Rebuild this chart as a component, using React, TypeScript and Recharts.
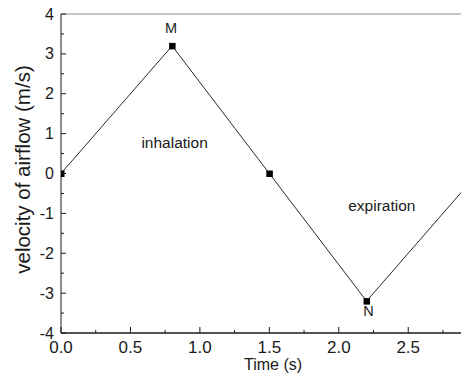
import React from 'react';
import {
  LineChart,
  Line,
  XAxis,
  YAxis,
  ReferenceLine,
  ReferenceDot,
  LabelList,
} from 'recharts';

// ---- data ----
const times = [0, 0.8, 1.5, 2.2, 3.0];
const velocities = [0, 3.2, 0, -3.2, 0];
const pointLabels = ['', 'M', '', 'N', ''];

const xTicks = [0, 0.25, 0.5, 0.75, 1.0, 1.25, 1.5, 1.75, 2.0, 2.25, 2.5, 2.75];
const yTicks = [-4, -3.5, -3, -2.5, -2, -1.5, -1, -0.5, 0, 0.5, 1, 1.5, 2, 2.5, 3, 3.5, 4];

const annotations = [
  { x: 0.818, y: 0.64, text: 'inhalation' },
  { x: 2.31, y: -0.94, text: 'expiration' },
];

const xLabel = 'Time (s)';
const yLabel = 'velocity of airflow (m/s)';

const data = times.map((t, i) => ({ t, v: velocities[i], label: pointLabels[i] }));

const FONT = '"Liberation Sans", Arial, Helvetica, sans-serif';
const INK = '#1a1a1a';

const YTick = (props: any) => {
  const { x, y, payload } = props;
  const v = payload.value as number;
  const major = Number.isInteger(v);
  return (
    <g>
      <line x1={x} x2={x + (major ? 5 : 3)} y1={y} y2={y} stroke={INK} strokeWidth={1} />
      {major && (
        <text
          x={x - 7}
          y={y}
          textAnchor="end"
          dominantBaseline="central"
          fontSize={16}
          fontFamily={FONT}
          fill={INK}
        >
          {String(v)}
        </text>
      )}
    </g>
  );
};

const XTick = (props: any) => {
  const { x, y, payload } = props;
  const v = payload.value as number;
  const major = Number.isInteger(v * 2);
  return (
    <g>
      <line x1={x} x2={x} y1={y} y2={y - (major ? 6 : 3)} stroke={INK} strokeWidth={1} />
      {major && (
        <text x={x} y={y + 20} textAnchor="middle" fontSize={17} fontFamily={FONT} fill={INK}>
          {v.toFixed(1)}
        </text>
      )}
    </g>
  );
};

const PointLabel = (props: any) => {
  const { x, y, value } = props;
  if (!value) return null;
  const below = value === 'N';
  return (
    <text
      x={x + (below ? 2 : -1)}
      y={below ? y + 15 : y - 13}
      textAnchor="middle"
      fontSize={14.5}
      fontFamily={FONT}
      fill={INK}
    >
      {value}
    </text>
  );
};

const SquareDot = (props: any) => {
  const { cx, cy } = props;
  if (cx == null || cy == null) return null;
  return <rect x={cx - 3} y={cy - 3} width={6.5} height={6.5} fill="#000" />;
};

const App = () => (
  <div style={{ position: 'absolute', left: 0, top: 0, background: '#fff' }}>
    <LineChart
      width={461}
      height={379}
      data={data}
      margin={{ top: 14, right: 0, bottom: 0, left: 0 }}
    >
      <XAxis
        dataKey="t"
        type="number"
        domain={[0, 2.88]}
        allowDataOverflow
        ticks={xTicks}
        interval={0}
        tickLine={false}
        tickSize={0}
        tickMargin={0}
        tick={<XTick />}
        height={46}
        axisLine={{ stroke: INK, strokeWidth: 1.5 }}
        label={{
          content: (p: any) => {
            const vb = p.viewBox;
            return (
              <text
                x={vb.x + 212}
                y={vb.y + 37}
                textAnchor="middle"
                fontSize={16}
                fontFamily={FONT}
                fill={INK}
              >
                {xLabel}
              </text>
            );
          },
        }}
      />
      <YAxis
        dataKey="v"
        type="number"
        domain={[-4, 4]}
        ticks={yTicks}
        interval={0}
        tickLine={false}
        tickSize={0}
        tickMargin={0}
        tick={<YTick />}
        width={61}
        axisLine={{ stroke: INK, strokeWidth: 1 }}
        label={{
          content: (p: any) => {
            const vb = p.viewBox;
            const cx = vb.x + 22;
            const cy = vb.y + vb.height / 2 - 4;
            return (
              <text
                x={cx}
                y={cy}
                transform={`rotate(-90 ${cx} ${cy})`}
                textAnchor="middle"
                dominantBaseline="central"
                fontSize={20.5}
                fontFamily={FONT}
                fill={INK}
              >
                {yLabel}
              </text>
            );
          },
        }}
      />
      <ReferenceLine y={4} stroke="#8a8a8a" strokeWidth={1} />
      {annotations.map((a) => (
        <ReferenceDot
          key={a.text}
          x={a.x}
          y={a.y}
          r={0}
          shape={(p: any) => (
            <text
              x={p.cx}
              y={p.cy}
              textAnchor="middle"
              fontSize={15.5}
              fontFamily={FONT}
              fill={INK}
            >
              {a.text}
            </text>
          )}
        />
      ))}
      <Line
        dataKey="v"
        stroke="#2a2a2a"
        strokeWidth={1}
        dot={<SquareDot />}
        activeDot={false}
        isAnimationActive={false}
      >
        <LabelList dataKey="label" content={<PointLabel />} />
      </Line>
    </LineChart>
  </div>
);

export default App;
